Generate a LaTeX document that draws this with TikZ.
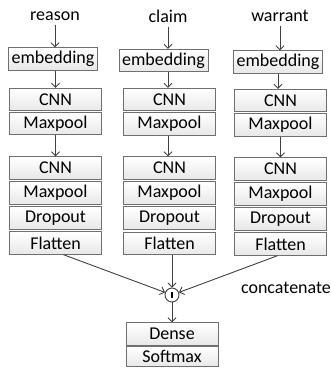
\documentclass[tikz,border=0pt]{standalone}
\usepackage{fontspec}
\setmainfont{Carlito}
\usetikzlibrary{arrows.meta}
\definecolor{linec}{HTML}{404040}
\definecolor{boxc}{HTML}{6F6F6F}
\tikzset{
  x=1pt,y=1pt,
  lbox/.style={draw=boxc,line width=0.9pt,top color=white,bottom color=gray!18,
    minimum width=92pt,minimum height=22.5pt,inner sep=0pt,
    font=\fontsize{18}{18}\selectfont,text=black},
  ebox/.style={lbox,minimum width=89pt},
  lab/.style={inner sep=0pt,font=\fontsize{18}{18}\selectfont},
  conn/.style={draw=linec,line width=0.9pt,-{Straight Barb[length=4pt,width=8pt]}}
}
\begin{document}
\begin{tikzpicture}
\useasboundingbox (0,0) rectangle (331,-374);
% column 1
\node[lab] (in1) at (55,-16) {reason};
\node[ebox] (e1) at (53,-59) {embedding};
\node[lbox] (c1a) at (55.5,-99.5) {CNN};
\node[lbox] (m1a) at (55.5,-123.5) {Maxpool};
\node[lbox] (c1b) at (55.5,-168) {CNN};
\node[lbox] (m1b) at (55.5,-193) {Maxpool};
\node[lbox] (d1) at (55.5,-218) {Dropout};
\node[lbox] (f1) at (55.5,-243) {Flatten};
% column 2
\node[lab] (in2) at (168,-16) {claim};
\node[ebox] (e2) at (163.5,-60.5) {embedding};
\node[lbox] (c2a) at (169.5,-99.5) {CNN};
\node[lbox] (m2a) at (169.5,-124) {Maxpool};
\node[lbox] (c2b) at (169.5,-168) {CNN};
\node[lbox] (m2b) at (169.5,-193) {Maxpool};
\node[lbox] (d2) at (169.5,-218) {Dropout};
\node[lbox] (f2) at (169.5,-243.5) {Flatten};
% column 3
\node[lab] (in3) at (280,-16) {warrant};
\node[ebox] (e3) at (278,-62) {embedding};
\node[lbox] (c3a) at (280.5,-100.5) {CNN};
\node[lbox] (m3a) at (280.5,-125) {Maxpool};
\node[lbox] (c3b) at (280.5,-169) {CNN};
\node[lbox] (m3b) at (280.5,-194) {Maxpool};
\node[lbox] (d3) at (280.5,-219) {Dropout};
\node[lbox] (f3) at (280.5,-244) {Flatten};
% merge
\node[circle,draw=linec,line width=0.9pt,fill=white,minimum size=14pt,inner sep=0pt] (cat) at (172,-295) {};
\fill[black] ([xshift=-1.2pt,yshift=-2.8pt]cat.center) rectangle ([xshift=1.2pt,yshift=2.8pt]cat.center);
\node[lab] (catl) at (286,-288) {concatenate};
\node[lbox] (dn) at (172,-334) {Dense};
\node[lbox,minimum height=20pt] (sm) at (172,-356.5) {Softmax};
% connectors
\foreach \i in {1,2,3}{
  \draw[conn] ([yshift=-4pt]in\i.south) -- (e\i.north -| in\i.south);
}
\draw[conn] (e1.south -| c1a.north) -- (c1a.north);
\draw[conn] ([xshift=-1.5pt]e2.south -| c2a.north) -- ([xshift=-1.5pt]c2a.north);
\draw[conn] (e3.south) -- (e3.south |- c3a.north);
\draw[conn] (m1a.south) -- (c1b.north);
\draw[conn] ([xshift=-1.5pt]m2a.south) -- ([xshift=-1.5pt]c2b.north);
\draw[conn] (m3a.south) -- (c3b.north);
\draw[conn] ([xshift=8pt]f1.south) -- (cat);
\draw[conn] ([xshift=2.5pt]f2.south) -- (cat);
\draw[conn] ([xshift=-3pt]f3.south) -- (cat);
\draw[conn] (cat) -- (dn);
\end{tikzpicture}
\end{document}
